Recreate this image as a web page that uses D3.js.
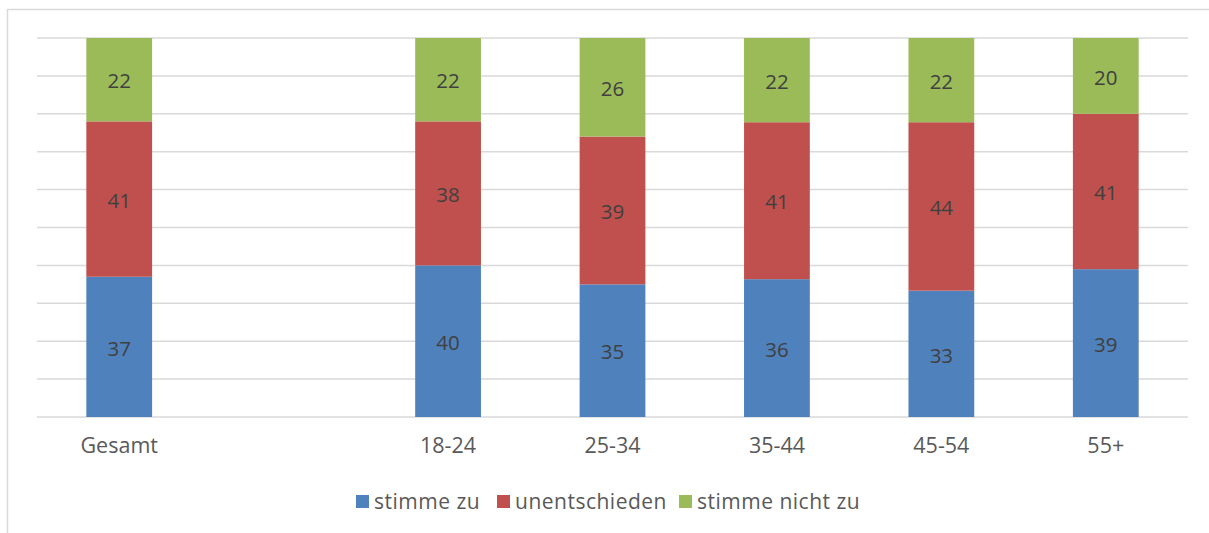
<!DOCTYPE html>
<html lang="de">
<head>
<meta charset="UTF-8" />
<title>Zustimmung nach Alter</title>
<script src="https://d3js.org/d3.v7.min.js"></script>
<style>
    body { margin: 0; background: #fff; }
    text { font-family: "Open Sans", "Noto Sans", sans-serif; }
</style>
</head>
<body>
<script>
    // Kategorien (mit Leerstelle zwischen Gesamt und Altersgruppen)
    const categories = ["Gesamt", "", "18-24", "25-34", "35-44", "45-54", "55+"];
    const seriesNames = ["stimme zu", "unentschieden", "stimme nicht zu"];
    const stimmeZu = [37, null, 40, 35, 36, 33, 39];
    const unentschieden = [41, null, 38, 39, 41, 44, 41];
    const stimmeNichtZu = [22, null, 22, 26, 22, 22, 20];
    const colors = ["#4F81BD", "#C0504D", "#9BBB59"];

    const width = 1209, height = 533;
    const plot = { left: 37, right: 1188, top: 38, bottom: 417 };

    const svg = d3.select("body").append("svg")
        .attr("width", width).attr("height", height);

    // Rahmen
    svg.append("rect")
        .attr("x", 7.5).attr("y", 9.5)
        .attr("width", 1260).attr("height", 600)
        .attr("fill", "none").attr("stroke", "#d9d9d9").attr("stroke-width", 1.5);

    const x = d3.scaleBand()
        .domain(d3.range(categories.length))
        .range([plot.left, plot.right])
        .paddingInner(0.6).paddingOuter(0.3);

    const y = d3.scaleLinear().domain([0, 100]).range([plot.bottom, plot.top]);

    // Gitterlinien
    svg.append("g").selectAll("line")
        .data(y.ticks(10))
        .join("line")
        .attr("x1", plot.left).attr("x2", plot.right)
        .attr("y1", d => y(d)).attr("y2", d => y(d))
        .attr("stroke", "#d9d9d9").attr("stroke-width", 1.5);

    // Daten normalisieren (100% gestapelt)
    const rows = categories.map((c, i) => ({
        i, cat: c, v: [stimmeZu[i], unentschieden[i], stimmeNichtZu[i]]
    })).filter(r => r.v[0] !== null);

    const segs = [];
    rows.forEach(r => {
        const total = d3.sum(r.v);
        let acc = 0;
        r.v.forEach((v, k) => {
            const y0 = acc / total * 100;
            acc += v;
            segs.push({ i: r.i, k, v, y0, y1: acc / total * 100 });
        });
    });

    svg.append("g").selectAll("rect")
        .data(segs)
        .join("rect")
        .attr("x", d => x(d.i))
        .attr("width", x.bandwidth())
        .attr("y", d => y(d.y1))
        .attr("height", d => y(d.y0) - y(d.y1))
        .attr("fill", d => colors[d.k]);

    svg.append("g").selectAll("text")
        .data(segs)
        .join("text")
        .attr("x", d => x(d.i) + x.bandwidth() / 2)
        .attr("y", d => (y(d.y0) + y(d.y1)) / 2 + 1.5)
        .attr("dy", "0.35em")
        .attr("text-anchor", "middle")
        .attr("font-size", 20.5)
        .attr("fill", "#404040")
        .text(d => d.v);

    // X-Achse
    const xAxis = svg.append("g")
        .attr("transform", `translate(0,${plot.bottom})`)
        .call(d3.axisBottom(x).tickSize(0).tickPadding(21).tickFormat(i => categories[i]));
    xAxis.select(".domain").remove();
    xAxis.selectAll("text")
        .attr("font-size", 21.5)
        .attr("fill", "#595959")
        .style("font-family", "'Open Sans', 'Noto Sans', sans-serif");

    // Legende
    const legendX = [356, 497, 679];
    const legend = svg.append("g").selectAll("g")
        .data(seriesNames)
        .join("g")
        .attr("transform", (d, k) => `translate(${legendX[k]},495)`);
    legend.append("rect")
        .attr("width", 13).attr("height", 13)
        .attr("fill", (d, k) => colors[k]);
    legend.append("text")
        .attr("x", 18).attr("y", 6.5).attr("dy", "0.35em")
        .attr("font-size", 21)
        .attr("letter-spacing", 0.5)
        .attr("fill", "#595959")
        .text(d => d);
</script>
</body>
</html>
